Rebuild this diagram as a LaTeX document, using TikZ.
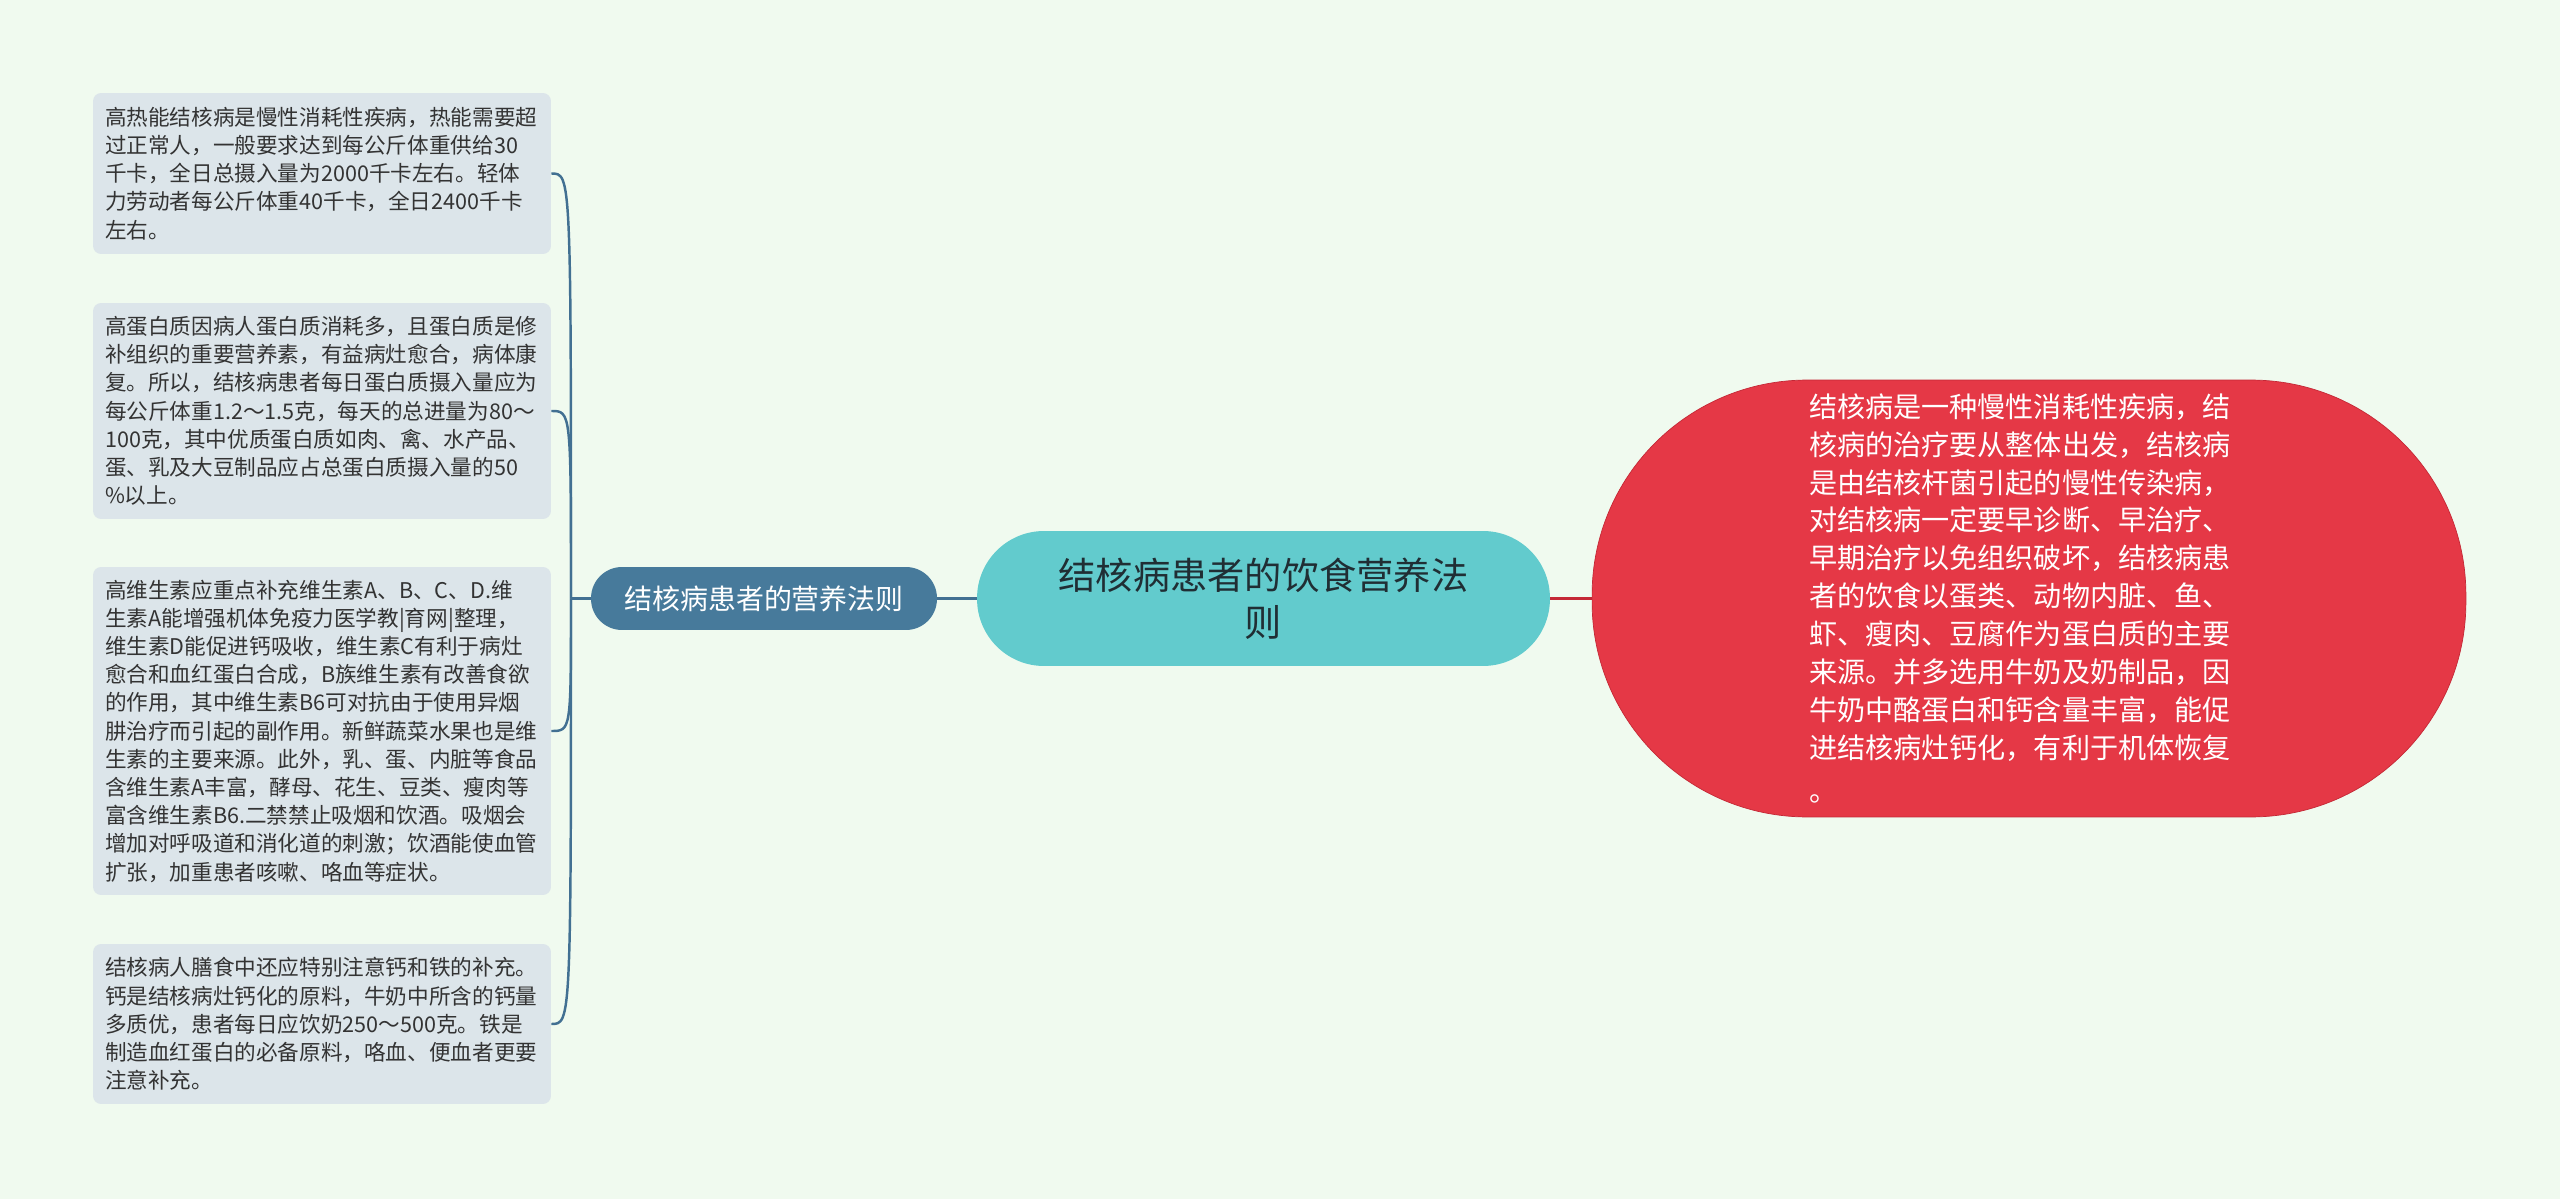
\documentclass[tikz,border=0pt]{standalone}
\usepackage{fontspec}
\setmainfont{Noto Sans CJK SC}
\usetikzlibrary{positioning}
\usepackage{xcolor}
\definecolor{bgmint}{RGB}{240,250,239}
\definecolor{leafgray}{RGB}{220,229,234}
\definecolor{leaftext}{RGB}{51,51,51}
\definecolor{linkblue}{RGB}{66,112,146}
\definecolor{branchblue}{RGB}{71,122,155}
\definecolor{rootteal}{RGB}{98,203,205}
\definecolor{roottext}{RGB}{32,46,52}
\definecolor{summaryred}{RGB}{229,56,70}
\definecolor{summaryedge}{RGB}{196,40,54}

\begin{document}
\begin{tikzpicture}[
        x=0.02cm, y=-0.02cm,
        leaf/.style={rectangle, fill=leafgray, rounded corners=0.16cm, text=leaftext, align=left, text width=8.68cm, inner xsep=0.24cm, inner ysep=0pt, font=\fontsize{12.3}{16.05}\selectfont},
        branch/.style={rectangle, fill=branchblue, rounded corners=0.62cm, text=white, minimum width=6.92cm, minimum height=1.26cm, font=\fontsize{15.9}{19}\selectfont},
        root/.style={rectangle, fill=rootteal, rounded corners=1.34cm, text=roottext, align=center, minimum width=11.46cm, minimum height=2.7cm, font=\fontsize{21.2}{26.7}\selectfont},
        summary/.style={rectangle, fill=summaryred, draw=summaryedge, thin, rounded corners=4.3cm, text=white, align=left, text width=8.8cm, minimum width=17.48cm, minimum height=8.74cm, font=\fontsize{16}{21.6}\selectfont},
        link/.style={draw=linkblue, line width=1.4pt},
        redlink/.style={draw=summaryedge, line width=1.6pt}
    ]
        % Background
        \fill[bgmint] (0,0) rectangle (2560,1199);
        \useasboundingbox (0,0) rectangle (2560,1199);

        % Root topic
        \node[root] (root) at (1263.5,598.5) {结核病患者的饮食营养法\\则};

        % Summary on the right
        \node[summary] (summary) at (2029,598.5) {结核病是一种慢性消耗性疾病，结\\核病的治疗要从整体出发，结核病\\是由结核杆菌引起的慢性传染病，\\对结核病一定要早诊断、早治疗、\\早期治疗以免组织破坏，结核病患\\者的饮食以蛋类、动物内脏、鱼、\\虾、瘦肉、豆腐作为蛋白质的主要\\来源。并多选用牛奶及奶制品，因\\牛奶中酪蛋白和钙含量丰富，能促\\进结核病灶钙化，有利于机体恢复\\[3pt]。};

        % Branch on the left
        \node[branch] (branch) at (764,598.5) {结核病患者的营养法则};

        % Leaves
        \node[leaf, minimum height=3.22cm] (heat) at (322,173.5) {高热能结核病是慢性消耗性疾病，热能需要超\\过正常人，一般要求达到每公斤体重供给30\\千卡，全日总摄入量为2000千卡左右。轻体\\力劳动者每公斤体重40千卡，全日2400千卡\\左右。};
        \node[leaf, minimum height=4.32cm] (protein) at (322,411) {高蛋白质因病人蛋白质消耗多，且蛋白质是修\\补组织的重要营养素，有益病灶愈合，病体康\\复。所以，结核病患者每日蛋白质摄入量应为\\每公斤体重1.2～1.5克，每天的总进量为80～\\100克，其中优质蛋白质如肉、禽、水产品、\\蛋、乳及大豆制品应占总蛋白质摄入量的50\\\%以上。};
        \node[leaf, minimum height=6.56cm] (vitamin) at (322,731) {高维生素应重点补充维生素A、B、C、D.维\\生素A能增强机体免疫力医学教|育网|整理，\\维生素D能促进钙吸收，维生素C有利于病灶\\愈合和血红蛋白合成，B族维生素有改善食欲\\的作用，其中维生素B6可对抗由于使用异烟\\肼治疗而引起的副作用。新鲜蔬菜水果也是维\\生素的主要来源。此外，乳、蛋、内脏等食品\\含维生素A丰富，酵母、花生、豆类、瘦肉等\\富含维生素B6.二禁禁止吸烟和饮酒。吸烟会\\增加对呼吸道和消化道的刺激；饮酒能使血管\\扩张，加重患者咳嗽、咯血等症状。};
        \node[leaf, minimum height=3.2cm] (mineral) at (322,1024) {结核病人膳食中还应特别注意钙和铁的补充。\\钙是结核病灶钙化的原料，牛奶中所含的钙量\\多质优，患者每日应饮奶250～500克。铁是\\制造血红蛋白的必备原料，咯血、便血者更要\\注意补充。};

        % Connectors
        \coordinate (trunk) at (571,598.5);
        \draw[redlink] (root.east) -- (summary.west);
        \draw[link] (root.west) -- (branch.east);
        \draw[link] (branch.west) -- (trunk);
        \foreach \leafname in {heat,protein,vitamin,mineral}
            \draw[link] (trunk) .. controls (trunk |- \leafname.east) .. (\leafname.east);

    \end{tikzpicture}
\end{document}
